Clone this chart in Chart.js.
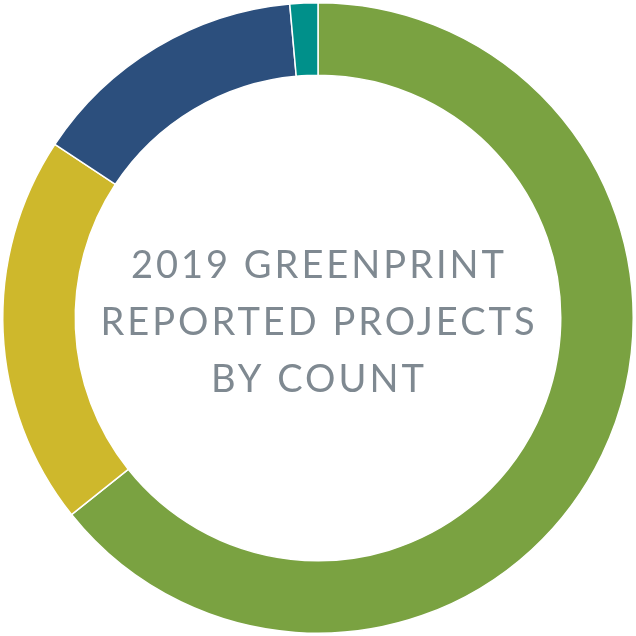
<!DOCTYPE html>
<html>
<head>
<meta charset="utf-8">
<script src="https://cdn.jsdelivr.net/npm/chart.js@4"></script>
<style>
  html, body { margin: 0; padding: 0; background: #fff; }
  canvas { display: block; }
</style>
</head>
<body>
<canvas id="chart" width="636" height="636"></canvas>
<script>
const categories = ['Category 1', 'Category 2', 'Category 3', 'Category 4'];
const counts = [45, 14, 10, 1];
const colors = ['#7AA241', '#CEB82C', '#2C4F7D', '#00908A'];
const titleLines = ['2019 GREENPRINT', 'REPORTED PROJECTS', 'BY COUNT'];

const ctx = document.getElementById('chart');

new Chart(ctx, {
    type: 'doughnut',
    data: {
        labels: categories,
        datasets: [{
            data: counts,
            backgroundColor: colors,
            borderColor: '#fff',
            borderWidth: 1.5,
        }],
    },
    options: {
        responsive: false,
        cutout: '77%',
        animation: false,
        events: [],
        layout: { padding: 2 },
        plugins: {
            legend: { display: false },
            tooltip: { enabled: false }
        }
    },
    plugins: [{
        afterDraw: function (chart) {
            const c = chart.ctx;
            const meta = chart.getDatasetMeta(0).data[0];
            const cx = meta.x, cy = meta.y;
            c.save();
            c.fillStyle = '#7F8991';
            c.font = '38px Lato, "Noto Sans", sans-serif';
            c.letterSpacing = '3px';
            c.textAlign = 'center';
            c.textBaseline = 'alphabetic';
            const lineH = 57;
            titleLines.forEach((t, i) => {
                c.fillText(t, cx + 1, cy - 40 + (i * lineH));
            });
            c.restore();
        }
    }]
});
</script>
</body>
</html>
